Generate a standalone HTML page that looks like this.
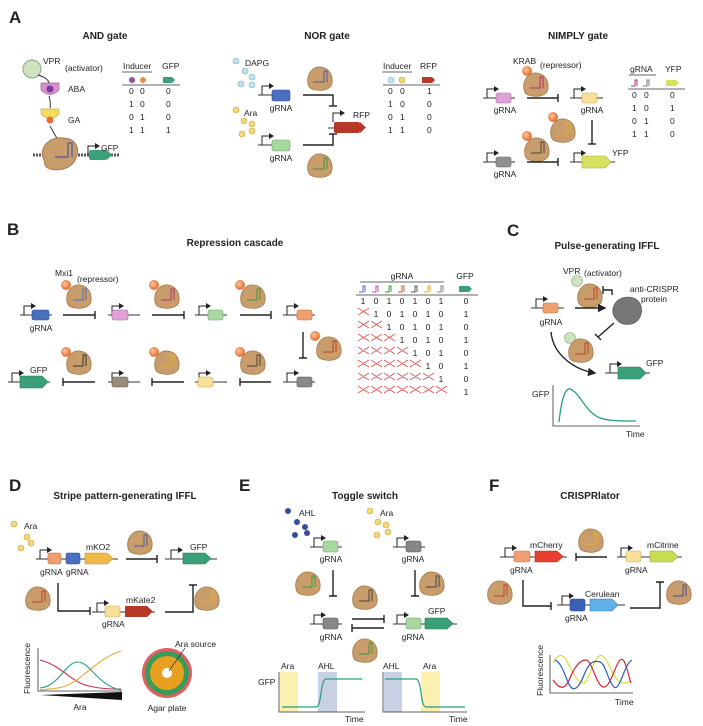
<!DOCTYPE html>
<html><head><meta charset="utf-8"><style>
html,body{margin:0;padding:0;background:#fff}
svg{display:block}
text{font-family:"Liberation Sans",Arial,sans-serif;fill:#222}
.t{font-size:10px;font-weight:bold;text-anchor:middle}
.L{font-size:17px;font-weight:bold}
.s{font-size:8.5px}
.c{text-anchor:middle}
.ln{stroke:#222;stroke-width:1.4;fill:none}
.dna{stroke:#333;stroke-width:1;fill:none}
</style></head><body>
<svg width="703" height="726" viewBox="0 0 703 726" xmlns="http://www.w3.org/2000/svg">
<defs>
<path id="blob" d="M-12,6 C-14,-4 -7,-12 1,-11 C9,-10 13,-3 12,5 C11,12 2,13 -4,12 C-9,11 -11,10 -12,6Z" fill="#c99c6b" stroke="#a47a4c" stroke-width="0.8"/>
<g id="pro"><path d="M0,0 V-9 H7" stroke="#222" stroke-width="1" fill="none"/><path d="M7,-12 L12,-9 L7,-6Z" fill="#222"/></g>
<marker id="ah" markerWidth="6" markerHeight="6" refX="5" refY="3" orient="auto"><path d="M0,0 L6,3 L0,6Z" fill="#222"/></marker>
<radialGradient id="eg" cx="0.4" cy="0.4"><stop offset="0" stop-color="#fbc8a0"/><stop offset="1" stop-color="#e8783a"/></radialGradient>
</defs>

<!-- ================= A ================= -->
<text class="L" x="9" y="23">A</text>
<text class="t" x="105" y="39">AND gate</text>
<text class="t" x="327" y="39">NOR gate</text>
<text class="t" x="578" y="39">NIMPLY gate</text>

<!-- AND -->
<circle cx="32" cy="69" r="9" fill="#cfe3c0" stroke="#8aa880"/>
<path d="M38,75 Q48,78 49,83" class="dna"/>
<path d="M41,83 H59 V90 Q50,99 41,90Z" fill="#d890c8" stroke="#a860a0" stroke-width="0.7"/>
<circle cx="50" cy="89" r="3.5" fill="#7a3aa0"/>
<text class="s" x="43" y="64">VPR</text><text class="s" x="65" y="71">(activator)</text>
<text class="s" x="68" y="92">ABA</text>
<path d="M49,96 Q51,103 50,108" class="dna"/>
<path d="M41,109 H59 V114 Q50,123 41,114Z" fill="#f4dc60" stroke="#c8b040" stroke-width="0.7"/>
<circle cx="50" cy="120" r="3.5" fill="#e87030"/>
<text class="s" x="68" y="123">GA</text>
<path d="M50,126 Q55,135 58,140" class="dna"/>
<path d="M33,155 H120" stroke="#555" stroke-dasharray="2,1" stroke-width="3" fill="none"/>
<path d="M44,160 C38,148 50,136 62,138 C76,138 80,148 76,158 C72,170 55,172 48,168 C44,166 45,163 44,160Z" fill="#c99c6b" stroke="#a47a4c"/>
<path d="M55,157 H68 V143 H72 V157" stroke="#4a5a9a" stroke-width="1.2" fill="none"/>
<use href="#pro" x="88" y="155"/>
<rect x="89" y="150" width="18" height="10" rx="2" fill="#3aa07a"/><path d="M107,150 L112,155 L107,160Z" fill="#3aa07a"/>
<text class="s" x="101" y="151">GFP</text>
<!-- AND table -->
<text class="s" x="123" y="69">Inducer</text><text class="s" x="162" y="69">GFP</text>
<line x1="122" y1="72" x2="152" y2="72" stroke="#333" stroke-width="0.7"/>
<circle cx="132" cy="80" r="3" fill="#9050b0"/><circle cx="143" cy="80" r="3" fill="#e88a50"/>
<path d="M163,77 H172 L175,80 L172,83 H163Z" fill="#3aa07a"/>
<line x1="122" y1="85" x2="180" y2="85" stroke="#333" stroke-width="0.7"/>
<g class="s"><text x="129" y="94">0</text><text x="140" y="94">0</text><text x="166" y="94">0</text>
<text x="129" y="107">1</text><text x="140" y="107">0</text><text x="166" y="107">0</text>
<text x="129" y="120">0</text><text x="140" y="120">1</text><text x="166" y="120">0</text>
<text x="129" y="133">1</text><text x="140" y="133">1</text><text x="166" y="133">1</text></g>

<!-- NOR -->
<g fill="#bfe3ee" stroke="#80b0c0" stroke-width="0.6"><circle cx="236" cy="61" r="3"/><circle cx="245" cy="71" r="3"/><circle cx="252" cy="77" r="3"/><circle cx="241" cy="84" r="3"/><circle cx="252" cy="85" r="3"/></g>
<text class="s" x="245" y="66">DAPG</text>
<g fill="#f4d77a" stroke="#c8a840" stroke-width="0.6"><circle cx="236" cy="110" r="3"/><circle cx="244" cy="121" r="3"/><circle cx="252" cy="124" r="3"/><circle cx="242" cy="134" r="3"/><circle cx="252" cy="131" r="3"/></g>
<text class="s" x="244" y="116">Ara</text>
<path d="M258,95 H290" class="dna"/><use href="#pro" x="262" y="95"/>
<rect x="272" y="90" width="18" height="11" rx="2" fill="#4a70c0" stroke="#2a4a90" stroke-width="0.6"/>
<text class="s c" x="281" y="111">gRNA</text>
<path d="M258,145 H290" class="dna"/><use href="#pro" x="262" y="145"/>
<rect x="272" y="140" width="18" height="11" rx="2" fill="#a8d8a0" stroke="#70a070" stroke-width="0.6"/>
<text class="s c" x="281" y="161">gRNA</text>
<use href="#blob" x="320" y="78"/><path d="M313,82 H324 V71 H327 V82" stroke="#4a5a9a" stroke-width="1" fill="none"/>
<use href="#blob" x="320" y="165"/><path d="M313,169 H324 V158 H327 V169" stroke="#3a9a3a" stroke-width="1" fill="none"/>
<path d="M303,95 H333 V106" class="ln"/><path d="M329,106 H337" class="ln"/>
<path d="M303,145 H333 V134" class="ln"/><path d="M329,134 H337" class="ln"/>
<path d="M328,128 H360" class="dna"/><use href="#pro" x="333" y="122"/>
<rect x="334" y="122" width="26" height="11" rx="2" fill="#b83828"/><path d="M360,122 L366,127.5 L360,133Z" fill="#b83828"/>
<text class="s" x="353" y="118">RFP</text>
<text class="s" x="383" y="69">Inducer</text><text class="s" x="420" y="69">RFP</text>
<line x1="382" y1="72" x2="412" y2="72" stroke="#333" stroke-width="0.7"/>
<circle cx="391" cy="80" r="3" fill="#bfe3ee" stroke="#80b0c0" stroke-width="0.6"/><circle cx="402" cy="80" r="3" fill="#f4d77a" stroke="#c8a840" stroke-width="0.6"/>
<path d="M422,77 H432 L435,80 L432,83 H422Z" fill="#b83828"/>
<line x1="383" y1="85" x2="440" y2="85" stroke="#333" stroke-width="0.7"/>
<g class="s"><text x="388" y="94">0</text><text x="400" y="94">0</text><text x="427" y="94">1</text>
<text x="388" y="107">1</text><text x="400" y="107">0</text><text x="427" y="107">0</text>
<text x="388" y="120">0</text><text x="400" y="120">1</text><text x="427" y="120">0</text>
<text x="388" y="133">1</text><text x="400" y="133">1</text><text x="427" y="133">0</text></g>

<!-- NIMPLY -->
<path d="M483,98 H515" class="dna"/><use href="#pro" x="487" y="98"/>
<rect x="496" y="93" width="15" height="10" rx="2" fill="#e0a0d8" stroke="#a070a0" stroke-width="0.6"/>
<text class="s c" x="505" y="113">gRNA</text>
<circle cx="527" cy="71" r="5" fill="url(#eg)"/>
<text class="s" x="513" y="64">KRAB</text><text class="s" x="540" y="68">(repressor)</text>
<use href="#blob" x="536" y="84"/><path d="M530,88 H540 V77 H543 V88" stroke="#b03070" stroke-width="1" fill="none"/>
<path d="M527,98 H558" class="ln"/><path d="M558,94 V102" class="ln"/>
<path d="M570,98 H603" class="dna"/><use href="#pro" x="574" y="98"/>
<rect x="582" y="93" width="15" height="10" rx="2" fill="#f8e09a" stroke="#c8a850" stroke-width="0.6"/>
<text class="s c" x="592" y="113">gRNA</text>
<circle cx="553" cy="117" r="5" fill="url(#eg)"/>
<use href="#blob" x="563" y="130"/><path d="M557,134 H567 V123 H570 V134" stroke="#e0b030" stroke-width="1" fill="none"/>
<circle cx="527" cy="136" r="5" fill="url(#eg)"/>
<use href="#blob" x="537" y="149"/><path d="M531,153 H541 V142 H544 V153" stroke="#444" stroke-width="1" fill="none"/>
<path d="M592,120 V144" class="ln"/><path d="M588,144 H596" class="ln"/>
<path d="M483,162 H515" class="dna"/><use href="#pro" x="487" y="162"/>
<rect x="496" y="157" width="15" height="10" rx="2" fill="#909090" stroke="#666" stroke-width="0.6"/>
<text class="s c" x="505" y="177">gRNA</text>
<path d="M527,162 H558" class="ln"/><path d="M558,158 V166" class="ln"/>
<path d="M570,162 H615" class="dna"/><use href="#pro" x="574" y="162"/>
<path d="M582,156 H605 L611,162 L605,168 H582Z" fill="#d8e060" stroke="#a8b040" stroke-width="0.6"/>
<text class="s" x="612" y="156">YFP</text>
<text class="s" x="630" y="72">gRNA</text><text class="s" x="665" y="72">YFP</text>
<line x1="629" y1="75" x2="656" y2="75" stroke="#333" stroke-width="0.7"/>
<path d="M631,86 H635 V80 H637 V86" stroke="#b03070" fill="none" stroke-width="1"/><path d="M643,86 H647 V80 H649 V86" stroke="#777" fill="none" stroke-width="1"/>
<path d="M666,80 H676 L679,83 L676,86 H666Z" fill="#d8e060"/>
<line x1="628" y1="89" x2="685" y2="89" stroke="#333" stroke-width="0.7"/>
<g class="s"><text x="632" y="98">0</text><text x="644" y="98">0</text><text x="670" y="98">0</text>
<text x="632" y="111">1</text><text x="644" y="111">0</text><text x="670" y="111">1</text>
<text x="632" y="124">0</text><text x="644" y="124">1</text><text x="670" y="124">0</text>
<text x="632" y="137">1</text><text x="644" y="137">1</text><text x="670" y="137">0</text></g>

<!-- ================= B ================= -->
<text class="L" x="7" y="235">B</text>
<text class="t" x="235" y="246">Repression cascade</text>
<text class="s" x="55" y="276">Mxi1</text><text class="s" x="77" y="282">(repressor)</text>
<!-- top row -->
<g>
<path d="M20,315 H52" class="dna"/><use href="#pro" x="24" y="315"/><rect x="32" y="310" width="17" height="10" rx="2" fill="#4a70c0" stroke="#2a4a90" stroke-width="0.6"/>
<text class="s c" x="41" y="331">gRNA</text>
<path d="M108,315 H140" class="dna"/><use href="#pro" x="112" y="315"/><rect x="112" y="310" width="16" height="10" rx="2" fill="#e0a0d8" stroke="#a070a0" stroke-width="0.6"/>
<path d="M195,315 H227" class="dna"/><use href="#pro" x="199" y="315"/><rect x="208" y="310" width="15" height="10" rx="2" fill="#a8d8a0" stroke="#70a070" stroke-width="0.6"/>
<path d="M283,315 H315" class="dna"/><use href="#pro" x="287" y="315"/><rect x="297" y="310" width="15" height="10" rx="2" fill="#f0a070" stroke="#c07040" stroke-width="0.6"/>
<path d="M63,315 H95 M95,311 V319" class="ln"/>
<path d="M152,315 H184 M184,311 V319" class="ln"/>
<path d="M240,315 H271 M271,311 V319" class="ln"/>
<circle cx="66" cy="285" r="5" fill="url(#eg)"/><use href="#blob" x="79" y="296"/><path d="M73,300 H83 V289 H86 V300" stroke="#4a70c0" stroke-width="1" fill="none"/>
<circle cx="154" cy="285" r="5" fill="url(#eg)"/><use href="#blob" x="167" y="296"/><path d="M161,300 H171 V289 H174 V300" stroke="#b03070" stroke-width="1" fill="none"/>
<circle cx="240" cy="285" r="5" fill="url(#eg)"/><use href="#blob" x="253" y="296"/><path d="M247,300 H257 V289 H260 V300" stroke="#3a9a3a" stroke-width="1" fill="none"/>
</g>
<path d="M303,332 V358 M299,358 H307" class="ln"/>
<circle cx="315" cy="336" r="5" fill="url(#eg)"/><use href="#blob" x="329" y="348"/><path d="M323,352 H333 V341 H336 V352" stroke="#c04020" stroke-width="1" fill="none"/>
<!-- bottom row -->
<path d="M8,382 H50" class="dna"/><use href="#pro" x="12" y="382"/><path d="M20,376 H42 L48,382 L42,388 H20Z" fill="#3aa07a" stroke="#2a7a5a" stroke-width="0.6"/>
<text class="s" x="30" y="373">GFP</text>
<path d="M108,382 H140" class="dna"/><use href="#pro" x="112" y="382"/><rect x="112" y="377" width="16" height="10" rx="2" fill="#9a8a78" stroke="#6a5a4a" stroke-width="0.6"/>
<path d="M195,382 H227" class="dna"/><use href="#pro" x="199" y="382"/><rect x="198" y="377" width="15" height="10" rx="2" fill="#f8e09a" stroke="#c8a850" stroke-width="0.6"/>
<path d="M283,382 H315" class="dna"/><use href="#pro" x="287" y="382"/><rect x="297" y="377" width="15" height="10" rx="2" fill="#888" stroke="#555" stroke-width="0.6"/>
<path d="M63,382 H95 M63,378 V386" class="ln"/>
<path d="M152,382 H184 M152,378 V386" class="ln"/>
<path d="M240,382 H271 M240,378 V386" class="ln"/>
<circle cx="66" cy="352" r="5" fill="url(#eg)"/><use href="#blob" x="79" y="362"/><path d="M73,366 H83 V355 H86 V366" stroke="#333" stroke-width="1" fill="none"/>
<circle cx="154" cy="352" r="5" fill="url(#eg)"/><use href="#blob" x="167" y="362"/><path d="M161,366 H171 V355 H174 V366" stroke="#e0b030" stroke-width="1" fill="none"/>
<circle cx="240" cy="352" r="5" fill="url(#eg)"/><use href="#blob" x="253" y="362"/><path d="M247,366 H257 V355 H260 V366" stroke="#444" stroke-width="1" fill="none"/>
<!-- B table -->
<text class="s c" x="402" y="279">gRNA</text><text class="s c" x="465" y="279">GFP</text>
<line x1="360" y1="282" x2="444" y2="282" stroke="#333" stroke-width="0.7"/>
<g fill="none" stroke-width="1">
<path d="M359,292 H363 V286 H365 V292" stroke="#4a70c0"/><path d="M372,292 H376 V286 H378 V292" stroke="#c050b0"/>
<path d="M385,292 H389 V286 H391 V292" stroke="#3a9a3a"/><path d="M398,292 H402 V286 H404 V292" stroke="#e05030"/>
<path d="M411,292 H415 V286 H417 V292" stroke="#555"/><path d="M424,292 H428 V286 H430 V292" stroke="#e0b020"/>
<path d="M437,292 H441 V286 H443 V292" stroke="#888"/></g>
<path d="M459,286 H469 L472,289 L469,292 H459Z" fill="#3aa07a"/>
<line x1="356" y1="295" x2="478" y2="295" stroke="#333" stroke-width="0.7"/>
<g class="s c">
<text x="363" y="304">1</text><text x="376" y="304">0</text><text x="389" y="304">1</text><text x="402" y="304">0</text><text x="415" y="304">1</text><text x="428" y="304">0</text><text x="441" y="304">1</text><text x="466" y="304">0</text>
<text x="376" y="317">1</text><text x="389" y="317">0</text><text x="402" y="317">1</text><text x="415" y="317">0</text><text x="428" y="317">1</text><text x="441" y="317">0</text><text x="466" y="317">1</text>
<text x="389" y="330">1</text><text x="402" y="330">0</text><text x="415" y="330">1</text><text x="428" y="330">0</text><text x="441" y="330">1</text><text x="466" y="330">0</text>
<text x="402" y="343">1</text><text x="415" y="343">0</text><text x="428" y="343">1</text><text x="441" y="343">0</text><text x="466" y="343">1</text>
<text x="415" y="356">1</text><text x="428" y="356">0</text><text x="441" y="356">1</text><text x="466" y="356">0</text>
<text x="428" y="369">1</text><text x="441" y="369">0</text><text x="466" y="369">1</text>
<text x="441" y="382">1</text><text x="466" y="382">0</text>
<text x="466" y="395">1</text></g>
<g stroke="#e05050" stroke-width="0.8">
<path d="M358,308 l11,7 m0,-7 l-11,7"/>
<path d="M358,321 l11,7 m0,-7 l-11,7 M371,321 l11,7 m0,-7 l-11,7"/>
<path d="M358,334 l11,7 m0,-7 l-11,7 M371,334 l11,7 m0,-7 l-11,7 M384,334 l11,7 m0,-7 l-11,7"/>
<path d="M358,347 l11,7 m0,-7 l-11,7 M371,347 l11,7 m0,-7 l-11,7 M384,347 l11,7 m0,-7 l-11,7 M397,347 l11,7 m0,-7 l-11,7"/>
<path d="M358,360 l11,7 m0,-7 l-11,7 M371,360 l11,7 m0,-7 l-11,7 M384,360 l11,7 m0,-7 l-11,7 M397,360 l11,7 m0,-7 l-11,7 M410,360 l11,7 m0,-7 l-11,7"/>
<path d="M358,373 l11,7 m0,-7 l-11,7 M371,373 l11,7 m0,-7 l-11,7 M384,373 l11,7 m0,-7 l-11,7 M397,373 l11,7 m0,-7 l-11,7 M410,373 l11,7 m0,-7 l-11,7 M423,373 l11,7 m0,-7 l-11,7"/>
<path d="M358,386 l11,7 m0,-7 l-11,7 M371,386 l11,7 m0,-7 l-11,7 M384,386 l11,7 m0,-7 l-11,7 M397,386 l11,7 m0,-7 l-11,7 M410,386 l11,7 m0,-7 l-11,7 M423,386 l11,7 m0,-7 l-11,7 M436,386 l11,7 m0,-7 l-11,7"/>
</g>

<!-- ================= C ================= -->
<text class="L" x="507" y="236">C</text>
<text class="t" x="607" y="249">Pulse-generating IFFL</text>
<circle cx="577" cy="281" r="5.5" fill="#cfe3c0" stroke="#8aa880" stroke-width="0.6"/>
<text class="s" x="563" y="274">VPR</text><text class="s" x="584" y="276">(activator)</text>
<use href="#blob" x="590" y="295"/><path d="M584,299 H594 V288 H597 V299" stroke="#c04020" stroke-width="1" fill="none"/>
<path d="M531,308 H564" class="dna"/><use href="#pro" x="536" y="308"/>
<rect x="543" y="303" width="15" height="10" rx="2" fill="#f0a070" stroke="#c07040" stroke-width="0.6"/>
<text class="s c" x="551" y="325">gRNA</text>
<path d="M575,308 H605" class="ln" marker-end="url(#ah)"/>
<path d="M617,320 C608,312 614,297 628,297 C642,297 645,312 638,320 C633,326 622,326 617,320Z" fill="#777" stroke="#555" stroke-width="0.6"/>
<text class="s" x="630" y="292">anti-CRISPR</text><text class="s" x="641" y="302">protein</text>
<path d="M603,290 H612 V295 M603,286 V294" class="ln" stroke-width="1.2"/>
<path d="M614,323 L598,337 M595,334 L601,340" class="ln" stroke-width="1.2"/>
<circle cx="570" cy="338" r="5.5" fill="#cfe3c0" stroke="#8aa880" stroke-width="0.6"/>
<use href="#blob" x="581" y="350"/><path d="M575,354 H585 V343 H588 V354" stroke="#c04020" stroke-width="1" fill="none"/>
<path d="M551,332 C553,355 575,370 595,373" class="ln" marker-end="url(#ah)"/>
<path d="M605,373 H650" class="dna"/><use href="#pro" x="610" y="373"/>
<path d="M618,367 H640 L646,373 L640,379 H618Z" fill="#3aa07a" stroke="#2a7a5a" stroke-width="0.6"/>
<text class="s" x="646" y="366">GFP</text>
<path d="M553,385 V426 H640" stroke="#333" stroke-width="0.8" fill="none"/>
<text class="s" x="532" y="397">GFP</text><text class="s" x="626" y="437">Time</text>
<path d="M559,422 C562,395 566,388 570,389 C580,392 585,412 600,418 C610,421 620,421 636,421" stroke="#20a080" stroke-width="1.3" fill="none"/>

<!-- ================= D ================= -->
<text class="L" x="9" y="491">D</text>
<text class="t" x="125" y="499">Stripe pattern-generating IFFL</text>
<g fill="#f4d77a" stroke="#c8a840" stroke-width="0.6"><circle cx="14" cy="524" r="3"/><circle cx="27" cy="537" r="3"/><circle cx="31" cy="543" r="3"/><circle cx="21" cy="548" r="3"/><circle cx="33" cy="546" r="3" opacity="0"/></g>
<text class="s" x="24" y="529">Ara</text>
<path d="M36,559 H118" class="dna"/><use href="#pro" x="40" y="559"/>
<rect x="48" y="553" width="13" height="11" rx="2" fill="#f0a070" stroke="#c07040" stroke-width="0.6"/>
<rect x="66" y="553" width="14" height="11" rx="2" fill="#4a70c0" stroke="#2a4a90" stroke-width="0.6"/>
<path d="M85,553 H107 L113,558.5 L107,564 H85Z" fill="#f0b848" stroke="#c09030" stroke-width="0.6"/>
<text class="s" x="86" y="550">mKO2</text>
<text class="s" x="40" y="575">gRNA</text><text class="s" x="66" y="575">gRNA</text>
<use href="#blob" x="140" y="542"/><path d="M134,546 H144 V535 H147 V546" stroke="#4a5a9a" stroke-width="1" fill="none"/>
<path d="M126,559 H157 M157,555 V563" class="ln"/>
<path d="M165,559 H217" class="dna"/><use href="#pro" x="171" y="559"/>
<path d="M183,553 H205 L211,558.5 L205,564 H183Z" fill="#3aa07a" stroke="#2a7a5a" stroke-width="0.6"/>
<text class="s" x="190" y="550">GFP</text>
<use href="#blob" x="38" y="598"/><path d="M32,602 H42 V591 H45 V602" stroke="#c04020" stroke-width="1" fill="none"/>
<path d="M58,583 V611 H90 M90,607 V615" class="ln"/>
<path d="M92,612 H155" class="dna"/><use href="#pro" x="97" y="612"/>
<rect x="105" y="606" width="15" height="11" rx="2" fill="#f8e09a" stroke="#c8a850" stroke-width="0.6"/>
<path d="M125,606 H147 L153,611.5 L147,617 H125Z" fill="#b83828"/>
<text class="s" x="126" y="603">mKate2</text><text class="s" x="102" y="627">gRNA</text>
<path d="M165,612 H193 V585 M189,585 H197" class="ln"/>
<use href="#blob" x="207" y="598"/><path d="M201,602 H211 V591 H214 V602" stroke="#e0b030" stroke-width="1" fill="none"/>
<path d="M38,648 V691 H122" stroke="#333" stroke-width="0.8" fill="none"/>
<text class="s" transform="translate(30,694) rotate(-90)">Fluorescence</text>
<path d="M40,660 C60,665 70,680 85,685 C100,689 110,689 121,689" stroke="#c03050" stroke-width="1.1" fill="none"/>
<path d="M40,690 C55,688 65,690 82,676 C98,663 108,655 121,651" stroke="#e8a830" stroke-width="1.1" fill="none"/>
<path d="M40,688 C60,686 65,662 78,662 C90,662 98,686 121,690" stroke="#20a080" stroke-width="1.1" fill="none"/>
<path d="M40,695 L122,692 V700Z" fill="#111"/>
<text class="s c" x="80" y="710">Ara</text>
<circle cx="167" cy="673" r="25" fill="#e06060"/><circle cx="167" cy="673" r="22" fill="#3a9a5a"/><circle cx="167" cy="673" r="17" fill="#e8a020"/><circle cx="167" cy="673" r="5" fill="#fff"/>
<path d="M169,671 L185,648" stroke="#333" stroke-width="0.7"/>
<text class="s" x="175" y="647">Ara source</text><text class="s c" x="167" y="711">Agar plate</text>

<!-- ================= E ================= -->
<text class="L" x="239" y="491">E</text>
<text class="t" x="365" y="499">Toggle switch</text>
<g fill="#3a4aa0"><circle cx="288" cy="511" r="3"/><circle cx="297" cy="522" r="3"/><circle cx="305" cy="527" r="3"/><circle cx="295" cy="535" r="3"/><circle cx="307" cy="533" r="3"/></g>
<text class="s" x="299" y="516">AHL</text>
<g fill="#f4d77a" stroke="#c8a840" stroke-width="0.6"><circle cx="370" cy="511" r="3"/><circle cx="378" cy="522" r="3"/><circle cx="386" cy="525" r="3"/><circle cx="377" cy="535" r="3"/><circle cx="388" cy="532" r="3"/></g>
<text class="s" x="380" y="516">Ara</text>
<path d="M310,547 H342" class="dna"/><use href="#pro" x="314" y="547"/><rect x="323" y="541" width="15" height="11" rx="2" fill="#a8d8a0" stroke="#70a070" stroke-width="0.6"/>
<text class="s c" x="331" y="562">gRNA</text>
<path d="M393,547 H425" class="dna"/><use href="#pro" x="397" y="547"/><rect x="406" y="541" width="15" height="11" rx="2" fill="#888" stroke="#555" stroke-width="0.6"/>
<text class="s c" x="413" y="562">gRNA</text>
<path d="M333,570 V596 M329,596 H337" class="ln"/>
<path d="M415,570 V596 M411,596 H419" class="ln"/>
<use href="#blob" x="308" y="583"/><path d="M302,587 H312 V576 H315 V587" stroke="#3a9a3a" stroke-width="1" fill="none"/>
<use href="#blob" x="432" y="583"/><path d="M426,587 H436 V576 H439 V587" stroke="#444" stroke-width="1" fill="none"/>
<use href="#blob" x="365" y="597"/><path d="M359,601 H369 V590 H372 V601" stroke="#444" stroke-width="1" fill="none"/>
<use href="#blob" x="365" y="650"/><path d="M359,654 H369 V643 H372 V654" stroke="#3a9a3a" stroke-width="1" fill="none"/>
<path d="M310,624 H342" class="dna"/><use href="#pro" x="314" y="624"/><rect x="323" y="618" width="15" height="11" rx="2" fill="#888" stroke="#555" stroke-width="0.6"/>
<text class="s c" x="331" y="640">gRNA</text>
<path d="M352,619 H384 M384,615 V623" class="ln"/>
<path d="M352,628 H384 M352,624 V632" class="ln"/>
<path d="M393,624 H457" class="dna"/><use href="#pro" x="397" y="624"/><rect x="406" y="618" width="15" height="11" rx="2" fill="#a8d8a0" stroke="#70a070" stroke-width="0.6"/>
<path d="M425,618 H447 L453,623.5 L447,629 H425Z" fill="#3aa07a" stroke="#2a7a5a" stroke-width="0.6"/>
<text class="s" x="428" y="614">GFP</text><text class="s c" x="413" y="640">gRNA</text>
<rect x="280" y="672" width="18" height="40" fill="#fbf0b0"/><rect x="318" y="672" width="19" height="40" fill="#c8d0e4"/>
<path d="M279,672 V712 H365" stroke="#333" stroke-width="0.8" fill="none"/>
<text class="s" x="281" y="669">Ara</text><text class="s" x="318" y="669">AHL</text>
<text class="s" x="258" y="685">GFP</text><text class="s" x="345" y="722">Time</text>
<path d="M282,707 H316 C322,707 320,680 326,679 H362" stroke="#20a080" stroke-width="1.2" fill="none"/>
<rect x="384" y="672" width="18" height="40" fill="#c8d0e4"/><rect x="421" y="672" width="19" height="40" fill="#fbf0b0"/>
<path d="M383,672 V712 H467" stroke="#333" stroke-width="0.8" fill="none"/>
<text class="s" x="383" y="669">AHL</text><text class="s" x="423" y="669">Ara</text>
<text class="s" x="449" y="722">Time</text>
<path d="M385,679 H416 C422,679 420,707 426,707 H465" stroke="#20a080" stroke-width="1.2" fill="none"/>

<!-- ================= F ================= -->
<text class="L" x="489" y="491">F</text>
<text class="t" x="590" y="499">CRISPRlator</text>
<path d="M500,557 H567" class="dna"/><use href="#pro" x="505" y="557"/>
<rect x="514" y="551" width="16" height="11" rx="2" fill="#f0a070" stroke="#c07040" stroke-width="0.6"/>
<path d="M535,551 H557 L563,556.5 L557,562 H535Z" fill="#e84030" stroke="#b03020" stroke-width="0.6"/>
<text class="s" x="530" y="548">mCherry</text><text class="s" x="510" y="573">gRNA</text>
<use href="#blob" x="591" y="540"/><path d="M585,544 H595 V533 H598 V544" stroke="#e0b030" stroke-width="1" fill="none"/>
<path d="M576,557 H607 M576,553 V561" class="ln"/>
<path d="M617,557 H682" class="dna"/><use href="#pro" x="621" y="557"/>
<rect x="626" y="551" width="15" height="11" rx="2" fill="#f8e09a" stroke="#c8a850" stroke-width="0.6"/>
<path d="M650,551 H672 L678,556.5 L672,562 H650Z" fill="#c8dc50" stroke="#98ac30" stroke-width="0.6"/>
<text class="s" x="647" y="548">mCitrine</text><text class="s" x="625" y="573">gRNA</text>
<use href="#blob" x="500" y="592"/><path d="M494,596 H504 V585 H507 V596" stroke="#c04020" stroke-width="1" fill="none"/>
<path d="M523,580 V606 H551 M551,602 V610" class="ln"/>
<path d="M557,605 H625" class="dna"/><use href="#pro" x="562" y="605"/>
<rect x="570" y="599" width="15" height="12" rx="2" fill="#3a60b8" stroke="#2a4a90" stroke-width="0.6"/>
<path d="M590,599 H612 L618,605 L612,611 H590Z" fill="#60b0e8" stroke="#3080b8" stroke-width="0.6"/>
<text class="s" x="585" y="597">Cerulean</text><text class="s" x="565" y="621">gRNA</text>
<path d="M630,608 H660 V582 M656,582 H664" class="ln"/>
<use href="#blob" x="679" y="592"/><path d="M673,596 H683 V585 H686 V596" stroke="#3a50a0" stroke-width="1" fill="none"/>
<path d="M550,655 V693 H633" stroke="#333" stroke-width="0.8" fill="none"/>
<text class="s" transform="translate(543,696) rotate(-90)">Fluorescence</text>
<text class="s" x="615" y="705">Time</text>
<path d="M553,668 C558,658 563,658 568,668 S578,688 583,688 S593,668 598,662 S608,668 613,678 S623,690 630,686" stroke="#d8e040" stroke-width="1.2" fill="none" transform="translate(0,-5)"/>
<path d="M553,680 C560,690 565,690 570,678 S580,660 586,660 S596,685 603,687 S615,665 620,660 S628,675 631,683" stroke="#e02030" stroke-width="1.2" fill="none"/>
<path d="M553,660 C560,662 564,680 568,686 S577,688 582,675 S592,660 598,662 S606,682 612,687 S622,664 630,660" stroke="#2a60c0" stroke-width="1.2" fill="none" transform="translate(2,0)"/>
</svg>
</body></html>
